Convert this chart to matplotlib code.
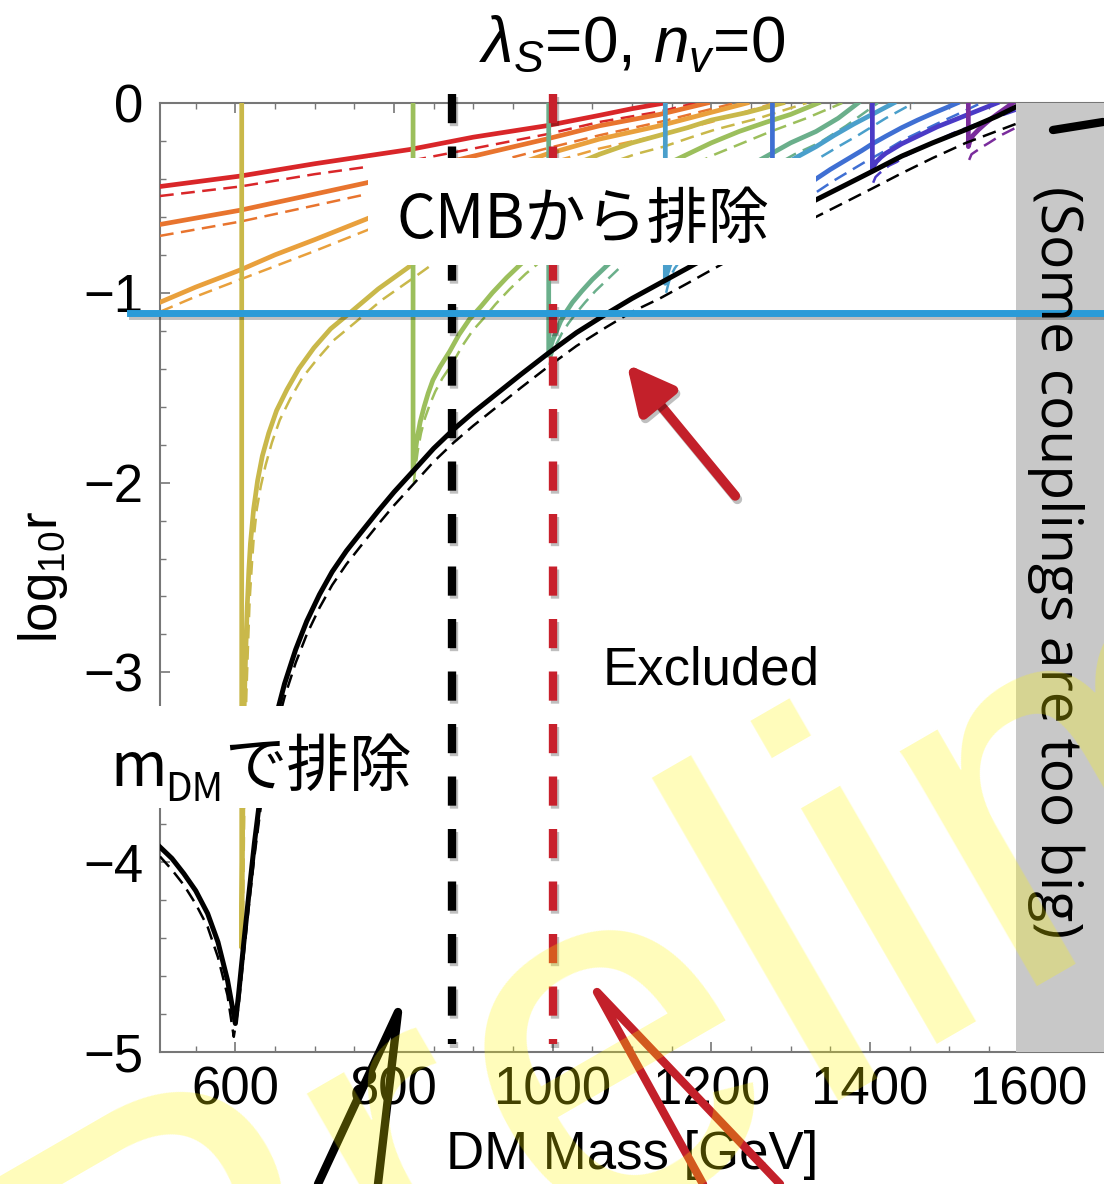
import matplotlib
matplotlib.use("Agg")
import matplotlib.pyplot as plt
import matplotlib.patheffects as pe
from matplotlib.lines import Line2D
from matplotlib.patches import Rectangle, FancyArrowPatch
from matplotlib.ticker import MultipleLocator

W, H = 1104, 1184

# ---- data: (DM mass [GeV], log10 r) ----
black_solid = [(505, -3.92), (520, -3.98), (535, -4.06), (550, -4.15), (565, -4.27), (578, -4.42),
               (590, -4.62), (600, -4.85), (604, -4.70), (610, -4.45), (617, -4.17), (624, -3.90),
               (632, -3.63), (642, -3.40), (652, -3.22), (662, -3.06), (676, -2.88), (690, -2.73),
               (706, -2.59), (722, -2.47), (740, -2.36), (757, -2.27), (780, -2.15), (800, -2.05),
               (824, -1.94), (850, -1.82), (875, -1.72), (900, -1.63), (924, -1.55), (960, -1.43),
               (994, -1.32), (1030, -1.21), (1068, -1.11), (1100, -1.03), (1135, -0.95), (1170, -0.87),
               (1200, -0.80), (1235, -0.72), (1270, -0.65), (1300, -0.58), (1332, -0.51), (1370, -0.43),
               (1403, -0.36), (1440, -0.28), (1479, -0.21), (1521, -0.14), (1560, -0.07), (1594, 0.0)]
black_dash = [(505, -3.97), (520, -4.04), (535, -4.12), (550, -4.22), (565, -4.34), (578, -4.50),
              (590, -4.70), (598, -4.92), (604, -4.76), (610, -4.51), (617, -4.23), (624, -3.97),
              (632, -3.71), (642, -3.47), (652, -3.29), (662, -3.13), (676, -2.95), (690, -2.80),
              (706, -2.66), (722, -2.54), (740, -2.43), (757, -2.34), (780, -2.22), (800, -2.12),
              (824, -2.01), (850, -1.89), (875, -1.79), (900, -1.70), (924, -1.62), (960, -1.50),
              (994, -1.39), (1030, -1.28), (1068, -1.18), (1100, -1.10), (1135, -1.03), (1170, -0.95),
              (1200, -0.88), (1235, -0.80), (1270, -0.73), (1300, -0.67), (1332, -0.60), (1370, -0.52),
              (1403, -0.45), (1440, -0.37), (1479, -0.29), (1521, -0.21), (1584, -0.11)]

red_solid = [(505, -0.44), (606, -0.385), (700, -0.32), (820, -0.245), (900, -0.18), (992, -0.12),
             (1059, -0.065), (1100, -0.03), (1141, 0.0)]
red_dash = [(505, -0.49), (606, -0.44), (700, -0.375), (820, -0.305), (900, -0.24), (992, -0.165),
            (1059, -0.10), (1135, -0.045), (1180, 0.0)]
orange_solid = [(505, -0.64), (606, -0.565), (700, -0.48), (766, -0.42), (830, -0.35), (900, -0.28),
                (992, -0.19), (1059, -0.12), (1135, -0.06), (1195, 0.0)]
orange_dash = [(505, -0.70), (606, -0.625), (700, -0.54), (766, -0.48), (830, -0.41), (900, -0.34),
               (992, -0.24), (1059, -0.17), (1135, -0.10), (1230, 0.0)]
amber_solid = [(505, -1.05), (550, -0.97), (606, -0.88), (650, -0.80), (700, -0.72), (766, -0.61),
               (830, -0.50), (900, -0.40), (950, -0.33), (992, -0.27), (1059, -0.19), (1135, -0.12),
               (1190, -0.06), (1245, 0.0)]
amber_dash = [(505, -1.10), (550, -1.02), (606, -0.93), (650, -0.86), (700, -0.78), (766, -0.67),
              (830, -0.56), (900, -0.46), (950, -0.38), (992, -0.32), (1059, -0.24), (1135, -0.17),
              (1200, -0.10), (1280, 0.0)]
olive_solid = [(608, 0.0), (608, -4.45), (609, -3.9), (610, -3.5), (611, -3.2), (613, -2.9), (615, -2.65),
               (617, -2.46), (619, -2.32), (623, -2.14), (628, -1.99), (634, -1.86), (642, -1.74),
               (652, -1.62), (665, -1.51), (680, -1.40), (699, -1.29), (720, -1.19), (746, -1.10),
               (780, -0.98), (820, -0.86), (860, -0.74), (900, -0.63), (945, -0.51), (992, -0.40),
               (1030, -0.32), (1059, -0.27), (1100, -0.21), (1135, -0.17), (1170, -0.13), (1200, -0.09),
               (1245, -0.05), (1290, 0.0)]
olive_dash = [(609, -4.5), (611, -3.8), (612, -3.4), (614, -3.1), (616, -2.85), (618, -2.62),
              (621, -2.42), (623, -2.30), (627, -2.14), (632, -2.02), (638, -1.91), (646, -1.79),
              (656, -1.67), (669, -1.56), (684, -1.45), (703, -1.35), (724, -1.25), (750, -1.16),
              (784, -1.04), (825, -0.92), (865, -0.80), (905, -0.69), (950, -0.57), (996, -0.46),
              (1034, -0.38), (1063, -0.33), (1104, -0.27), (1140, -0.23), (1175, -0.18), (1205, -0.14),
              (1260, -0.08), (1320, 0.0)]
lime_solid = [(824, 0.0), (824, -1.95), (826, -1.86), (829, -1.77), (833, -1.68), (838, -1.60),
              (843, -1.53), (849, -1.46), (858, -1.39), (870, -1.31), (882, -1.22), (895, -1.14),
              (910, -1.07), (924, -1.00), (942, -0.92), (962, -0.84), (985, -0.76), (1010, -0.67),
              (1035, -0.59), (1059, -0.52), (1095, -0.43), (1135, -0.34), (1170, -0.27), (1200, -0.21),
              (1235, -0.15), (1270, -0.10), (1300, -0.06), (1335, 0.0)]
lime_dash = [(825, -2.0), (827, -1.92), (830, -1.83), (834, -1.74), (839, -1.66), (845, -1.59),
             (852, -1.52), (861, -1.45), (874, -1.37), (886, -1.28), (899, -1.20), (914, -1.13),
             (928, -1.06), (946, -0.98), (966, -0.90), (989, -0.82), (1014, -0.73), (1039, -0.65),
             (1063, -0.58), (1099, -0.49), (1140, -0.40), (1175, -0.33), (1205, -0.27), (1240, -0.21),
             (1275, -0.15), (1320, -0.08), (1365, 0.0)]
green_solid = [(995, 0.0), (995, -1.33), (997, -1.29), (1000, -1.25), (1005, -1.20), (1010, -1.15),
               (1017, -1.10), (1025, -1.05), (1037, -0.99), (1050, -0.93), (1065, -0.87), (1080, -0.81),
               (1105, -0.72), (1135, -0.62), (1165, -0.53), (1200, -0.44), (1235, -0.36), (1270, -0.28),
               (1300, -0.21), (1332, -0.15), (1360, -0.08), (1385, 0.0)]
green_dash = [(996, -1.38), (998, -1.34), (1001, -1.30), (1006, -1.26), (1012, -1.21), (1020, -1.16),
              (1029, -1.11), (1041, -1.05), (1054, -0.99), (1069, -0.93), (1084, -0.87), (1109, -0.78),
              (1140, -0.68), (1170, -0.59), (1205, -0.50), (1240, -0.42), (1275, -0.34), (1305, -0.27),
              (1336, -0.21), (1370, -0.12), (1410, 0.0)]
cyan_solid = [(1142, 0.0), (1142, -0.95), (1144, -0.90), (1147, -0.86), (1151, -0.82), (1157, -0.78),
              (1165, -0.73), (1175, -0.68), (1187, -0.63), (1200, -0.58), (1220, -0.52), (1240, -0.46),
              (1265, -0.39), (1290, -0.33), (1310, -0.28), (1332, -0.23), (1355, -0.17), (1380, -0.11),
              (1405, -0.055), (1430, 0.0)]
cyan_dash = [(1143, -1.0), (1146, -0.95), (1149, -0.91), (1154, -0.87), (1161, -0.83), (1169, -0.78),
             (1179, -0.73), (1191, -0.68), (1204, -0.64), (1224, -0.58), (1244, -0.52), (1269, -0.45),
             (1294, -0.39), (1314, -0.34), (1336, -0.29), (1360, -0.23), (1385, -0.17), (1420, -0.08),
             (1455, 0.0)]
blue_solid = [(1277, 0.0), (1277, -0.65), (1279, -0.61), (1282, -0.58), (1288, -0.54), (1295, -0.51),
              (1305, -0.48), (1315, -0.45), (1332, -0.40), (1350, -0.35), (1370, -0.30), (1390, -0.25),
              (1403, -0.215), (1420, -0.175), (1440, -0.13), (1460, -0.09), (1479, -0.055),
              (1495, -0.027), (1510, 0.0)]
blue_dash = [(1278, -0.70), (1281, -0.66), (1285, -0.63), (1291, -0.60), (1298, -0.57), (1308, -0.54),
             (1318, -0.51), (1336, -0.46), (1354, -0.41), (1374, -0.36), (1394, -0.31), (1407, -0.28),
             (1424, -0.24), (1444, -0.19), (1464, -0.15), (1484, -0.11), (1510, -0.06), (1540, 0.0)]
indigo_solid = [(1403, 0.0), (1403, -0.35), (1405, -0.33), (1408, -0.31), (1414, -0.285), (1420, -0.265),
                (1430, -0.24), (1440, -0.215), (1455, -0.185), (1470, -0.155), (1485, -0.125),
                (1500, -0.10), (1512, -0.08), (1524, -0.06), (1542, -0.03), (1560, 0.0)]
indigo_dash = [(1404, -0.42), (1407, -0.39), (1412, -0.37), (1418, -0.35), (1424, -0.33), (1434, -0.31),
               (1444, -0.28), (1459, -0.25), (1474, -0.22), (1489, -0.19), (1504, -0.16), (1528, -0.12),
               (1556, -0.08), (1584, -0.04)]
purple_solid = [(1524, 0.0), (1524, -0.23), (1526, -0.20), (1530, -0.17), (1537, -0.14), (1545, -0.11),
                (1552, -0.085), (1560, -0.06), (1570, -0.03), (1580, 0.0)]
purple_dash = [(1525, -0.30), (1528, -0.27), (1535, -0.25), (1542, -0.23), (1550, -0.21), (1565, -0.17),
               (1584, -0.13)]

solid_curves = [red_solid, orange_solid, amber_solid, olive_solid, lime_solid, green_solid,
                cyan_solid, blue_solid, indigo_solid, purple_solid]
dashed_curves = [red_dash, orange_dash, amber_dash, olive_dash, lime_dash, green_dash,
                 cyan_dash, blue_dash, indigo_dash, purple_dash]
curve_colors = ["#d92629", "#e8742e", "#e9a03c", "#c9b84a", "#9cbf5c", "#6aaf8b",
                "#4a9fcb", "#3f6fd3", "#4a3ac6", "#7a2c9c"]

mass_bounds = [873, 1000]          # thick dashed verticals
mass_bound_colors = ["black", "#c8202c"]
cmb_limit = -1.106                 # blue horizontal line
coupling_limit = 1584              # grey band start
x_ticks = [600, 800, 1000, 1200, 1400, 1600]
y_ticks = [0, -1, -2, -3, -4, -5]

plt.rcParams["font.family"] = ["Liberation Sans", "DejaVu Sans"]
plt.rcParams["mathtext.fontset"] = "custom"
plt.rcParams["mathtext.rm"] = "Liberation Sans"
plt.rcParams["mathtext.it"] = "Liberation Sans:italic"
CJK = ["Noto Sans CJK JP", "DejaVu Sans"]


def px(x, y):
    # slide pixel -> figure fraction
    return x / W, 1 - y / H


fig = plt.figure(figsize=(W / 100, H / 100), dpi=100)
ax = fig.add_axes([160 / W, (H - 1052) / H, (W - 160) / W, 949 / H])
ax.set_xlim(505, 1695)
ax.set_ylim(-5, 0)

shadow = [pe.SimpleLineShadow(offset=(1.5, -2.5), shadow_color="k", alpha=0.25), pe.Normal()]

for sol, das, col in zip(solid_curves, dashed_curves, curve_colors):
    m, v = zip(*sol)
    ax.plot(m, v, color=col, lw=3.4, solid_joinstyle="round", zorder=3)
    m, v = zip(*das)
    ax.plot(m, v, color=col, lw=1.8, dashes=(5.5, 3), zorder=3)

m, v = zip(*black_solid)
ax.plot(m, v, color="black", lw=3.6, solid_joinstyle="round", zorder=3.5)
m, v = zip(*black_dash)
ax.plot(m, v, color="black", lw=1.8, dashes=(5.5, 3), zorder=3.5)

for mb, col in zip(mass_bounds, mass_bound_colors):
    ax.plot([mb, mb], [0.05, -4.96], color=col, lw=6, dashes=(3.5, 2.8),
            clip_on=False, zorder=4, path_effects=shadow)

ax.axvspan(coupling_limit, 1700, color="#c8c8c8", lw=0, zorder=5)
ax.plot([467, 1700], [cmb_limit, cmb_limit], color="#2a9bd8", lw=5, clip_on=False,
        zorder=6, path_effects=shadow)

ax.text(1063, -2.99, "Excluded", fontsize=38, ha="left", va="center", zorder=6)

# axes styling (Mathematica frame look)
for s in ax.spines.values():
    s.set_color("#777777")
    s.set_linewidth(1.5)
ax.spines["right"].set_visible(False)
ax.set_xticks(x_ticks)
ax.set_yticks(y_ticks)
ax.xaxis.set_minor_locator(MultipleLocator(50))
ax.yaxis.set_minor_locator(MultipleLocator(0.2))
ax.tick_params(which="both", direction="in", top=True, right=True, color="#777777")
ax.tick_params(which="major", length=7, width=1.2)
ax.tick_params(which="minor", length=4, width=1.0)
ax.tick_params(axis="x", labelsize=38, pad=10)
ax.tick_params(axis="y", labelsize=38, pad=12)

fig.text(632 / W, 1 - 45 / H, r"$\lambda_S$=0, $n_v$=0", fontsize=46, ha="center", va="center")
fig.text(43 / W, 1 - 577 / H, r"log$_{10}$r", fontsize=38, rotation=90, ha="center", va="center")
fig.text(632 / W, 1 - 1155 / H, "DM Mass [GeV]", fontsize=38, ha="center", va="center")

# slide overlays: white label boxes
for (x0, y0, x1, y1) in [(368, 158, 816, 265), (100, 706, 440, 808)]:
    fig.add_artist(Rectangle(px(x0, y1), (x1 - x0) / W, (y1 - y0) / H, transform=fig.transFigure,
                             fc="white", ec="none", zorder=7))
fig.text(*px(396, 238), "CMBから排除", fontsize=44, family=CJK, ha="left", va="baseline", zorder=7.5)
fig.text(*px(110, 786), "m", fontsize=44, family=CJK, ha="left", va="baseline", zorder=7.5)
fig.text(*px(165, 801), "DM", fontsize=28, family=CJK, ha="left", va="baseline", zorder=7.5)
fig.text(*px(224, 786), "で排除", fontsize=45, family=CJK, ha="left", va="baseline", zorder=7.5)

fig.text(*px(1056, 562), "(Some couplings are too big)", fontsize=41, family="Open Sans",
         rotation=270, ha="center", va="center", zorder=7.5)

# red arrow
fig.add_artist(FancyArrowPatch(px(737, 498), px(625, 362), transform=fig.transFigure,
                               arrowstyle="-|>,head_length=0.7,head_width=0.35", mutation_scale=40,
                               color="#c3202a", lw=7, capstyle="round", joinstyle="round",
                               zorder=8, path_effects=shadow))

# pen strokes
strokes = [([318, 398, 378], [1184, 1012, 1184], "black"),
           ([703, 597, 780], [1184, 992, 1184], "#c3202a"),
           ([1053, 1103], [130, 122], "black")]
for xs, ys, col in strokes:
    fig.add_artist(Line2D([x / W for x in xs], [1 - y / H for y in ys], transform=fig.transFigure,
                          color=col, lw=6, solid_capstyle="round", solid_joinstyle="round", zorder=8))

# watermark
fig.text(*px(111, 1496), "Preliminary", fontsize=370, color=(1.0, 0.97, 0.0), alpha=0.27,
         rotation=30, rotation_mode="anchor", ha="left", va="baseline", zorder=10)

fig.savefig("out.png", dpi=100)
